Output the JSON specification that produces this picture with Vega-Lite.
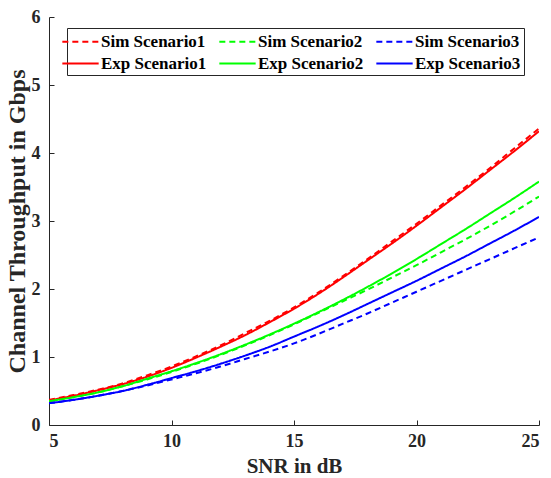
{
  "$schema": "https://vega.github.io/schema/vega-lite/v6.json",
  "autosize": "none",
  "padding": {"left": 49, "top": 17, "right": 12, "bottom": 53},
  "width": 490,
  "height": 408,
  "background": "white",
  "data": {"values": [
    {"snr":5,"s":"Sim Scenario1","v":0.37},{"snr":6,"s":"Sim Scenario1","v":0.44},{"snr":7,"s":"Sim Scenario1","v":0.52},{"snr":8,"s":"Sim Scenario1","v":0.61},{"snr":9,"s":"Sim Scenario1","v":0.73},{"snr":10,"s":"Sim Scenario1","v":0.86},{"snr":11,"s":"Sim Scenario1","v":1.01},{"snr":12,"s":"Sim Scenario1","v":1.17},{"snr":13,"s":"Sim Scenario1","v":1.35},{"snr":14,"s":"Sim Scenario1","v":1.53},{"snr":15,"s":"Sim Scenario1","v":1.73},{"snr":16,"s":"Sim Scenario1","v":1.95},{"snr":17,"s":"Sim Scenario1","v":2.19},{"snr":18,"s":"Sim Scenario1","v":2.44},{"snr":19,"s":"Sim Scenario1","v":2.70},{"snr":20,"s":"Sim Scenario1","v":2.96},{"snr":21,"s":"Sim Scenario1","v":3.23},{"snr":22,"s":"Sim Scenario1","v":3.50},{"snr":23,"s":"Sim Scenario1","v":3.78},{"snr":24,"s":"Sim Scenario1","v":4.07},{"snr":25,"s":"Sim Scenario1","v":4.36},
    {"snr":5,"s":"Sim Scenario2","v":0.35},{"snr":6,"s":"Sim Scenario2","v":0.41},{"snr":7,"s":"Sim Scenario2","v":0.48},{"snr":8,"s":"Sim Scenario2","v":0.57},{"snr":9,"s":"Sim Scenario2","v":0.67},{"snr":10,"s":"Sim Scenario2","v":0.78},{"snr":11,"s":"Sim Scenario2","v":0.90},{"snr":12,"s":"Sim Scenario2","v":1.03},{"snr":13,"s":"Sim Scenario2","v":1.17},{"snr":14,"s":"Sim Scenario2","v":1.32},{"snr":15,"s":"Sim Scenario2","v":1.48},{"snr":16,"s":"Sim Scenario2","v":1.65},{"snr":17,"s":"Sim Scenario2","v":1.82},{"snr":18,"s":"Sim Scenario2","v":1.99},{"snr":19,"s":"Sim Scenario2","v":2.17},{"snr":20,"s":"Sim Scenario2","v":2.35},{"snr":21,"s":"Sim Scenario2","v":2.54},{"snr":22,"s":"Sim Scenario2","v":2.73},{"snr":23,"s":"Sim Scenario2","v":2.93},{"snr":24,"s":"Sim Scenario2","v":3.14},{"snr":25,"s":"Sim Scenario2","v":3.36},
    {"snr":5,"s":"Sim Scenario3","v":0.32},{"snr":6,"s":"Sim Scenario3","v":0.37},{"snr":7,"s":"Sim Scenario3","v":0.43},{"snr":8,"s":"Sim Scenario3","v":0.50},{"snr":9,"s":"Sim Scenario3","v":0.58},{"snr":10,"s":"Sim Scenario3","v":0.67},{"snr":11,"s":"Sim Scenario3","v":0.76},{"snr":12,"s":"Sim Scenario3","v":0.86},{"snr":13,"s":"Sim Scenario3","v":0.97},{"snr":14,"s":"Sim Scenario3","v":1.08},{"snr":15,"s":"Sim Scenario3","v":1.20},{"snr":16,"s":"Sim Scenario3","v":1.34},{"snr":17,"s":"Sim Scenario3","v":1.49},{"snr":18,"s":"Sim Scenario3","v":1.64},{"snr":19,"s":"Sim Scenario3","v":1.80},{"snr":20,"s":"Sim Scenario3","v":1.96},{"snr":21,"s":"Sim Scenario3","v":2.12},{"snr":22,"s":"Sim Scenario3","v":2.28},{"snr":23,"s":"Sim Scenario3","v":2.44},{"snr":24,"s":"Sim Scenario3","v":2.60},{"snr":25,"s":"Sim Scenario3","v":2.76},
    {"snr":5,"s":"Exp Scenario1","v":0.36},{"snr":6,"s":"Exp Scenario1","v":0.43},{"snr":7,"s":"Exp Scenario1","v":0.51},{"snr":8,"s":"Exp Scenario1","v":0.60},{"snr":9,"s":"Exp Scenario1","v":0.71},{"snr":10,"s":"Exp Scenario1","v":0.84},{"snr":11,"s":"Exp Scenario1","v":0.99},{"snr":12,"s":"Exp Scenario1","v":1.15},{"snr":13,"s":"Exp Scenario1","v":1.32},{"snr":14,"s":"Exp Scenario1","v":1.51},{"snr":15,"s":"Exp Scenario1","v":1.71},{"snr":16,"s":"Exp Scenario1","v":1.93},{"snr":17,"s":"Exp Scenario1","v":2.17},{"snr":18,"s":"Exp Scenario1","v":2.42},{"snr":19,"s":"Exp Scenario1","v":2.67},{"snr":20,"s":"Exp Scenario1","v":2.93},{"snr":21,"s":"Exp Scenario1","v":3.20},{"snr":22,"s":"Exp Scenario1","v":3.47},{"snr":23,"s":"Exp Scenario1","v":3.75},{"snr":24,"s":"Exp Scenario1","v":4.03},{"snr":25,"s":"Exp Scenario1","v":4.32},
    {"snr":5,"s":"Exp Scenario2","v":0.35},{"snr":6,"s":"Exp Scenario2","v":0.41},{"snr":7,"s":"Exp Scenario2","v":0.48},{"snr":8,"s":"Exp Scenario2","v":0.57},{"snr":9,"s":"Exp Scenario2","v":0.68},{"snr":10,"s":"Exp Scenario2","v":0.79},{"snr":11,"s":"Exp Scenario2","v":0.91},{"snr":12,"s":"Exp Scenario2","v":1.04},{"snr":13,"s":"Exp Scenario2","v":1.18},{"snr":14,"s":"Exp Scenario2","v":1.33},{"snr":15,"s":"Exp Scenario2","v":1.49},{"snr":16,"s":"Exp Scenario2","v":1.66},{"snr":17,"s":"Exp Scenario2","v":1.84},{"snr":18,"s":"Exp Scenario2","v":2.03},{"snr":19,"s":"Exp Scenario2","v":2.23},{"snr":20,"s":"Exp Scenario2","v":2.44},{"snr":21,"s":"Exp Scenario2","v":2.66},{"snr":22,"s":"Exp Scenario2","v":2.88},{"snr":23,"s":"Exp Scenario2","v":3.11},{"snr":24,"s":"Exp Scenario2","v":3.34},{"snr":25,"s":"Exp Scenario2","v":3.58},
    {"snr":5,"s":"Exp Scenario3","v":0.32},{"snr":6,"s":"Exp Scenario3","v":0.37},{"snr":7,"s":"Exp Scenario3","v":0.43},{"snr":8,"s":"Exp Scenario3","v":0.50},{"snr":9,"s":"Exp Scenario3","v":0.59},{"snr":10,"s":"Exp Scenario3","v":0.69},{"snr":11,"s":"Exp Scenario3","v":0.79},{"snr":12,"s":"Exp Scenario3","v":0.90},{"snr":13,"s":"Exp Scenario3","v":1.02},{"snr":14,"s":"Exp Scenario3","v":1.15},{"snr":15,"s":"Exp Scenario3","v":1.30},{"snr":16,"s":"Exp Scenario3","v":1.45},{"snr":17,"s":"Exp Scenario3","v":1.61},{"snr":18,"s":"Exp Scenario3","v":1.78},{"snr":19,"s":"Exp Scenario3","v":1.95},{"snr":20,"s":"Exp Scenario3","v":2.12},{"snr":21,"s":"Exp Scenario3","v":2.30},{"snr":22,"s":"Exp Scenario3","v":2.48},{"snr":23,"s":"Exp Scenario3","v":2.67},{"snr":24,"s":"Exp Scenario3","v":2.86},{"snr":25,"s":"Exp Scenario3","v":3.06}
  ]},
  "mark": {"type": "line", "strokeWidth": 2, "interpolate": "monotone", "clip": true},
  "encoding": {
    "x": {"field": "snr", "type": "quantitative", "scale": {"domain": [5, 25], "nice": false, "zero": false},
      "axis": {"title": "SNR in dB", "values": [5, 10, 15, 20, 25], "grid": false, "tickSize": -5, "labelPadding": 12, "titlePadding": 5, "titleFontSize": 21}},
    "y": {"field": "v", "type": "quantitative", "scale": {"domain": [0, 6], "nice": false},
      "axis": {"title": "Channel Throughput in Gbps", "values": [0, 1, 2, 3, 4, 5, 6], "grid": false, "tickSize": -5, "labelPadding": 14, "titlePadding": 2, "titleFontSize": 24}},
    "color": {"field": "s", "type": "nominal",
      "scale": {"domain": ["Sim Scenario1", "Sim Scenario2", "Sim Scenario3", "Exp Scenario1", "Exp Scenario2", "Exp Scenario3"],
                "range": ["#ff0000", "#00ff00", "#0000ff", "#ff0000", "#00ff00", "#0000ff"]},
      "legend": {"title": null, "orient": "none", "legendX": 18, "legendY": 11, "columns": 3, "direction": "horizontal",
        "symbolType": "M-2,0H2", "symbolSize": 330, "symbolStrokeWidth": 2, "labelFontSize": 17, "labelFont": "Liberation Serif", "labelFontWeight": "bold", "labelColor": "#000000",
        "strokeColor": "#262626", "fillColor": "white", "padding": 3, "columnPadding": 8, "rowPadding": 3, "labelOffset": 10, "labelLimit": 200}},
    "strokeDash": {"field": "s", "type": "nominal",
      "scale": {"domain": ["Sim Scenario1", "Sim Scenario2", "Sim Scenario3", "Exp Scenario1", "Exp Scenario2", "Exp Scenario3"],
                "range": [[6, 4], [6, 4], [6, 4], [1, 0], [1, 0], [1, 0]]}}
  },
  "config": {
    "view": {"stroke": null},
    "font": "Liberation Serif",
    "axis": {"domainColor": "#262626", "tickColor": "#262626", "labelColor": "#262626", "titleColor": "#262626",
      "labelFont": "Liberation Serif", "labelFontSize": 18, "labelFontWeight": "bold",
      "titleFont": "Liberation Serif", "titleFontSize": 20, "titleFontWeight": "bold", "domainWidth": 1, "tickWidth": 1}
  }
}
